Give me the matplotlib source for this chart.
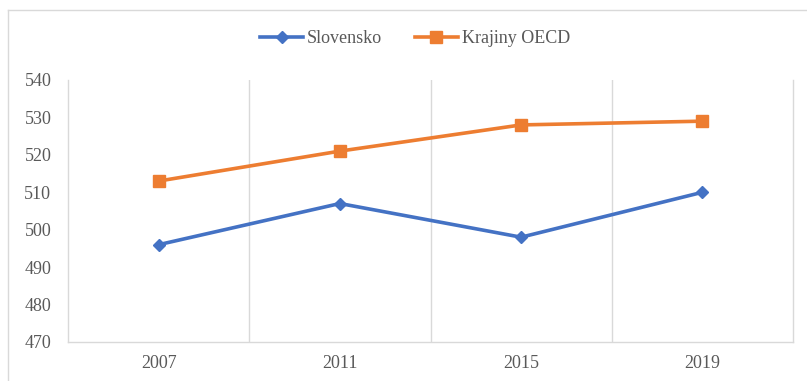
import matplotlib.pyplot as plt
from matplotlib.lines import Line2D

years = ["2007", "2011", "2015", "2019"]
slovensko = [496, 507, 498, 510]
oecd = [513, 521, 528, 529]
y_ticks = [470, 480, 490, 500, 510, 520, 530, 540]

grid_col = "#d9d9d9"
text_col = "#595959"
plt.rcParams["font.family"] = ["Liberation Serif", "DejaVu Serif"]

fig = plt.figure(figsize=(8.07, 3.81), dpi=100, facecolor="white")
ax = fig.add_axes([68 / 807, 39 / 381, 725 / 807, 262 / 381])

x = range(len(years))
ax.plot(x, slovensko, color="#4472C4", lw=2.6, marker="D", ms=6.3,
        label="Slovensko", zorder=3)
ax.plot(x, oecd, color="#ED7D31", lw=2.6, marker="s", ms=8.2,
        label="Krajiny OECD", zorder=3)

ax.set_xlim(-0.5, len(years) - 0.5)
ax.set_ylim(470, 540)
ax.set_yticks(y_ticks)
ax.set_xticks(list(x))
ax.set_xticklabels(years)
ax.set_xticks([i + 0.5 for i in range(len(years) - 1)], minor=True)
ax.grid(which="minor", axis="x", color=grid_col, lw=1)
ax.tick_params(which="both", length=0)
ax.tick_params(axis="y", pad=12, labelsize=13, labelcolor=text_col)
ax.tick_params(axis="x", pad=9, labelsize=13, labelcolor=text_col)

for s in ["left", "right", "bottom"]:
    ax.spines[s].set_color(grid_col)
    ax.spines[s].set_linewidth(1)
ax.spines["top"].set_visible(False)

leg = fig.legend(loc="center", bbox_to_anchor=(415 / 807, 0.898), ncol=2,
                 frameon=False, fontsize=13, handlelength=2.4,
                 handletextpad=0.2, columnspacing=1.8)
for t in leg.get_texts():
    t.set_color(text_col)

# outer chart border (cut off at right and bottom edges)
fig.add_artist(Line2D([8 / 807, 1], [1 - 10 / 381] * 2, color=grid_col, lw=1,
                      transform=fig.transFigure))
fig.add_artist(Line2D([8 / 807] * 2, [0, 1 - 10 / 381], color=grid_col, lw=1,
                      transform=fig.transFigure))

fig.savefig("out.png", dpi=100, facecolor="white")
